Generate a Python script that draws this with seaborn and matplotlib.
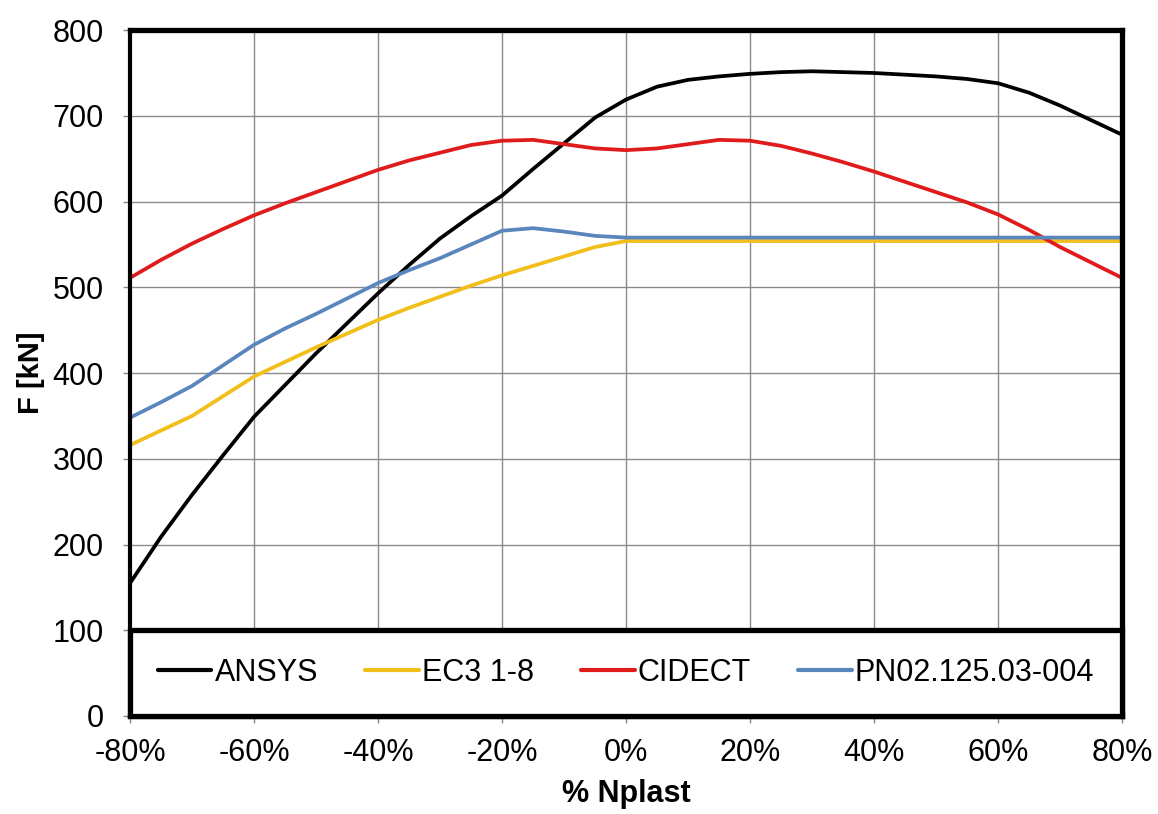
import numpy as np
import pandas as pd
import matplotlib
matplotlib.use("Agg")
import matplotlib.pyplot as plt
from matplotlib.patches import Rectangle
import seaborn as sns

# ---- data ----
x_pct = [-80, -75, -70, -65, -60, -55, -50, -45, -40, -35, -30, -25, -20, -15, -10, -5,
         0, 5, 10, 15, 20, 25, 30, 35, 40, 45, 50, 55, 60, 65, 70, 75, 80]
ansys = [155, 209, 258, 304, 349, 386, 423, 458, 493, 526, 557, 583, 607, 638, 668, 698,
         719, 734, 742, 746, 749, 751, 752, 751, 750, 748, 746, 743, 738, 727, 712, 695, 678]
ec3 = [316, 333, 350, 373, 396, 413, 430, 446, 462, 476, 489, 502, 514, 525, 536, 547,
       554, 554, 554, 554, 554, 554, 554, 554, 554, 554, 554, 554, 554, 554, 554, 554, 554]
cidect = [511, 532, 551, 568, 584, 598, 611, 624, 637, 648, 657, 666, 671, 672, 667, 662,
          660, 662, 667, 672, 671, 665, 656, 646, 635, 623, 611, 599, 585, 567, 547, 529, 511]
pn = [348, 366, 385, 409, 433, 452, 469, 487, 505, 520, 534, 550, 566, 569, 565, 560,
      558, 558, 558, 558, 558, 558, 558, 558, 558, 558, 558, 558, 558, 558, 558, 558, 558]
series_names = ["ANSYS", "EC3 1-8", "CIDECT", "PN02.125.03-004"]
x_ticks = [-80, -60, -40, -20, 0, 20, 40, 60, 80]
y_ticks = [0, 100, 200, 300, 400, 500, 600, 700, 800]
x_label = "% Nplast"
y_label = "F [kN]"

colors = {"ANSYS": "#000000", "EC3 1-8": "#F2BE1A", "CIDECT": "#E01B1B", "PN02.125.03-004": "#5A86BE"}

frames = []
for name, vals in zip(series_names, [ansys, ec3, cidect, pn]):
    frames.append(pd.DataFrame({"x": x_pct, "F": vals, "series": name}))
df = pd.concat(frames, ignore_index=True)

sns.set_theme(style="white")
plt.rcParams["font.family"] = ["Liberation Sans", "DejaVu Sans"]
plt.rcParams["text.color"] = "black"
plt.rcParams["axes.labelcolor"] = "black"

fig = plt.figure(figsize=(11.58, 8.14), dpi=100)
ax = fig.add_axes([0.1123, 0.1204, 0.969 - 0.1123, 0.963 - 0.1204])

sns.lineplot(data=df, x="x", y="F", hue="series", hue_order=series_names,
             palette=colors, linewidth=2.7, ax=ax, sort=False, estimator=None)

ax.set_xlim(-80, 80)
ax.set_ylim(0, 800)
ax.set_xticks(x_ticks)
ax.set_xticklabels([f"{v}%" for v in x_ticks])
ax.set_yticks(y_ticks)
ax.grid(True, color="#8a8a8a", linewidth=1.0)
ax.set_axisbelow(True)

for s in ax.spines.values():
    s.set_visible(True)
    s.set_color("black")
    s.set_linewidth(3.8)
ax.spines["left"].set_linewidth(3.0)

ax.tick_params(axis="both", which="major", labelsize=22, length=5, width=1,
               color="#888888", labelcolor="black", direction="out",
               left=True, bottom=True)
ax.tick_params(axis="x", pad=11)
ax.tick_params(axis="y", pad=14)
ax.set_xlabel(x_label, fontsize=22, fontweight="bold", labelpad=8)
ax.set_ylabel(y_label, fontsize=21, fontweight="bold", labelpad=5)

handles, labels = ax.get_legend_handles_labels()
if ax.get_legend() is not None:
    ax.get_legend().remove()

# legend strip with thick black border
rect = Rectangle((0, 0), 1, 0.125, transform=ax.transAxes, facecolor="white",
                 edgecolor="black", linewidth=3.8, zorder=4, clip_on=False)
ax.add_patch(rect)

leg = ax.legend(handles, labels, loc="center", bbox_to_anchor=(0, 0, 1, 0.125),
                ncol=4, frameon=False, borderaxespad=0, fontsize=22,
                handlelength=1.75, handletextpad=0.1, columnspacing=1.55)
leg.set_zorder(5)
for line in leg.get_lines():
    line.set_linewidth(3)

fig.savefig("out.png", dpi=100, facecolor="white")
